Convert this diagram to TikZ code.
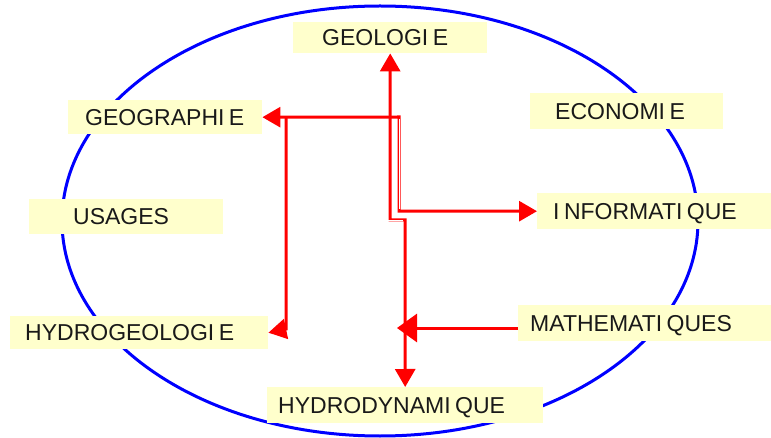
\documentclass[tikz,border=0pt]{standalone}
\usepackage{fontspec}
\setmainfont{Liberation Sans}
\usetikzlibrary{arrows.meta}
\definecolor{boxfill}{RGB}{255,255,204}
\definecolor{linkred}{RGB}{255,0,0}
\definecolor{ringblue}{RGB}{0,0,255}
\newcommand\gapI{I\kern4.5pt}
\begin{document}
\begin{tikzpicture}[x=1pt,y=-1pt,
  lbl/.style n args={4}{fill=boxfill, draw=none, anchor=north west,
    font=\fontsize{23}{26}\selectfont, align=left, text=black!90,
    text height=16.5pt, text depth=0pt, inner ysep=0pt, inner xsep=2pt,
    minimum height=#1, text width=#2-4pt,
    execute at begin node={\hspace*{#3}}},
  link/.style={draw=linkred, line width=3pt},
  >={Triangle[length=18pt,width=20pt]}]
\useasboundingbox (0,0) rectangle (771,438);
% ring
\draw[ringblue, line width=3pt] (380,221) ellipse [x radius=318pt, y radius=215pt];
% labels
\node[lbl={31pt}{194pt}{27pt}{}] (geol) at (293,22) {GEOLOG\gapI E};
\node[lbl={34pt}{194pt}{15pt}{}] (geog) at (68,100) {GEOGRAPH\gapI E};
\node[lbl={36pt}{193pt}{23pt}{}] (econ) at (530,93) {ECONOM\gapI E};
\node[lbl={35pt}{194pt}{42pt}{}] (usag) at (29,199) {USAGES};
\node[lbl={36pt}{234pt}{14pt}{}] (info) at (537,193) {\gapI NFORMAT\gapI QUE};
\node[lbl={36pt}{253pt}{10pt}{}] (math) at (518,305) {MATHEMAT\gapI QUES};
\node[lbl={33pt}{258pt}{13pt}{}] (hydg) at (10,316) {HYDROGEOLOG\gapI E};
\node[lbl={36pt}{276pt}{9pt}{}] (hydd) at (267,387) {HYDRODYNAM\gapI QUE};
% junctions
\coordinate (a1) at (399,117);
\coordinate (jA) at (286,117);
\coordinate (c1) at (286,329);
\coordinate (b2) at (405,220);
\coordinate (d1) at (397,328);
% connectors
\draw[link,<->] (geog.east) -- (a1) -- (a1 |- info.west) -- (info.west);
\draw[link,<->] (geol.south) -- (geol.south |- b2) -- (b2) -- (hydd.north);
\draw[white, line width=0.7pt] ([yshift=-2pt]a1) -- ([yshift=2pt]a1 |- info.west);
\draw[white, line width=0.7pt] ([xshift=-2pt]b2 -| geol.south) -- ([xshift=-2pt]b2);
\draw[link,->] (jA) -- (c1) -- (hydg.east);
\draw[link,-{Triangle[length=20pt,width=28pt]}] (math.west |- d1) -- (d1);
\end{tikzpicture}
\end{document}
